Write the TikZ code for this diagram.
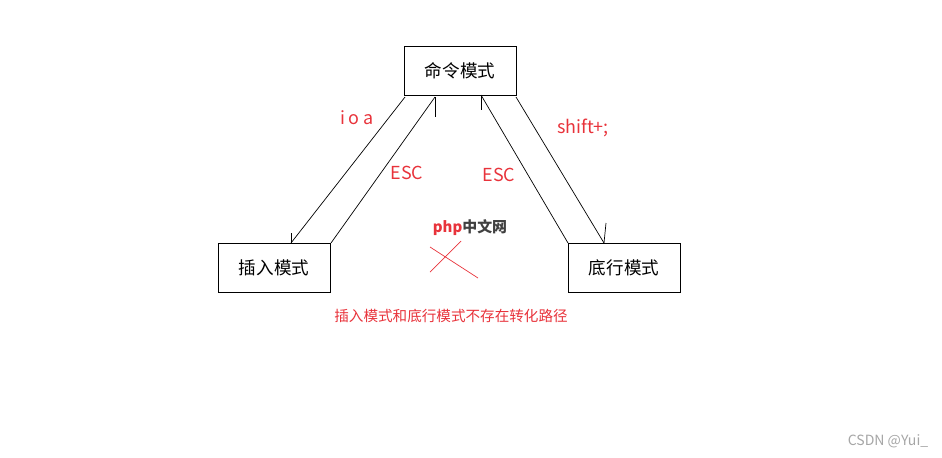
\documentclass[tikz,border=0pt]{standalone}
\usepackage{fontspec}
\setmainfont{Noto Sans CJK SC}
\definecolor{markred}{HTML}{E8333B}
\begin{document}
\begin{tikzpicture}[x=0.02cm,y=-0.02cm,
        mode/.style={
            rectangle,
            draw,
            minimum width=2.24cm,
            minimum height=0.98cm,
            font=\fontsize{10}{11}\selectfont
        },
        note/.style={text=markred, font=\fontsize{10.2}{11}\selectfont},
        tick/.style={thin}
    ]
        \useasboundingbox (0,0) rectangle (942,457);

        \node[mode] (cmd)    at (460,71)  {命令模式};
        \node[mode] (insert) at (274,268) {插入模式};
        \node[mode] (bottom) at (624,268) {底行模式};

        % ends of the hand-drawn connectors
        \coordinate (cmdA) at (405,97);
        \coordinate (cmdB) at (435,97);
        \coordinate (cmdC) at (481,95);
        \coordinate (cmdD) at (516,97);
        \coordinate (insA) at (291,243);
        \coordinate (insB) at (331,243);
        \coordinate (botA) at (568,243);
        \coordinate (botB) at (604,243);

        \draw[thin] (cmdA) -- (insA);
        \draw[thin] (insB) -- (cmdB);
        \draw[thin] (botA) -- (cmdC);
        \draw[thin] (cmdD) -- (botB);

        % arrow ticks
        \draw[tick] (insA) -- ++(0,-10);
        \draw[tick] (cmdB) -- ++(0,20);
        \draw[tick] (cmdC) -- ++(0,15);
        \draw[tick] (botB) -- ++(2,-20);

        \node[note] (ioa)   at (357,118) {i o a};
        \node[note] (esc1)  at (407,173) {ESC};
        \node[note] (esc2)  at (499,175) {ESC};
        \node[note] (shift) at (583,128) {shift+;};

        \draw[markred, thin] (430,247) -- (478,278);
        \draw[markred, thin] (430,272) -- (461,241);

        \node (logo) at (470,228) {\fontsize{8.5}{9}\selectfont\bfseries\textcolor{markred}{\textit{php}}\textcolor{black!75}{中文网}};
        \node[text=markred, font=\fontsize{8.3}{9}\selectfont] (nopath) at (451,316) {插入模式和底行模式不存在转化路径};
        \node[text=black!35, font=\fontsize{8}{9}\selectfont] (mark) at (888,441) {CSDN @Yui\_};
\end{tikzpicture}
\end{document}
